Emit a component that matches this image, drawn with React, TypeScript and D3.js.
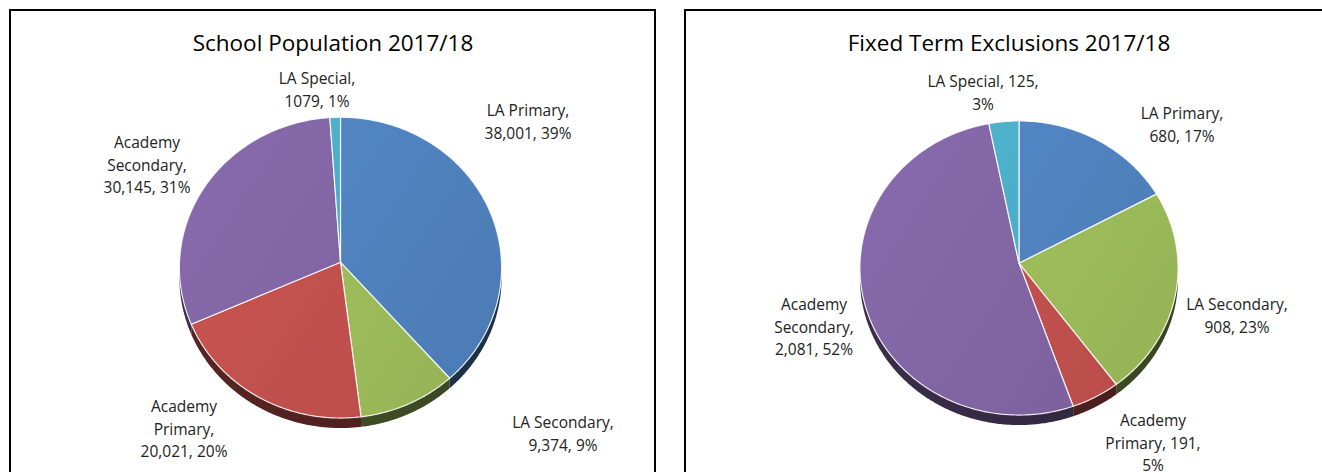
import React from "react";
import * as d3 from "d3";

// ---------- data ----------
const categories = ["LA Primary", "LA Secondary", "Academy Primary", "Academy Secondary", "LA Special"];
const sliceColors = ["#4F81BD", "#9BBB59", "#C0504D", "#8064A2", "#4BACC6"];

const populationTitle = "School Population 2017/18";
const populationValues = [38001, 9374, 20021, 30145, 1079];
const populationValueFormats = [",", ",", ",", ",", "d"];
const populationPercents = ["39%", "9%", "20%", "31%", "1%"];

const exclusionTitle = "Fixed Term Exclusions 2017/18";
const exclusionValues = [680, 908, 191, 2081, 125];
const exclusionValueFormats = [",", ",", ",", ",", ","];
const exclusionPercents = ["17%", "23%", "5%", "52%", "3%"];

// ---------- layout ----------
const W = 1322;
const H = 472;
const FONT = "'Open Sans', 'Liberation Sans', sans-serif";
const LABEL_SIZE = 15.5;
const TITLE_SIZE = 22.5;
const LINE_H = 22.5;

type LabelLayout = { dx: number; dy: number; lines: number[] };
type ChartLayout = {
  id: string;
  frame: { x: number; y: number; w: number; h: number };
  titleX: number;
  titleY: number;
  cx: number;
  cy: number;
  rx: number;
  ry: number;
  k: number;
  depth: number;
  labels: LabelLayout[];
};

const populationLayout: ChartLayout = {
  id: "pop",
  frame: { x: 10, y: 10, w: 645, h: 530 },
  titleX: 333,
  titleY: 51,
  cx: 340.5,
  cy: 262.3,
  rx: 161,
  ry: 150.2,
  k: 0.0356,
  depth: 10,
  labels: [
    { dx: 187.5, dy: -146, lines: [2, 2] },
    { dx: 222.5, dy: 166, lines: [2, 2] },
    { dx: -156.5, dy: 150, lines: [1, 1, 2] },
    { dx: -193.5, dy: -114, lines: [1, 1, 2] },
    { dx: -23.5, dy: -178, lines: [2, 2] },
  ],
};

const exclusionLayout: ChartLayout = {
  id: "exc",
  frame: { x: 685, y: 10, w: 700, h: 530 },
  titleX: 1009,
  titleY: 51,
  cx: 1019,
  cy: 263.3,
  rx: 159,
  ry: 146.9,
  k: 0.032,
  depth: 10,
  labels: [
    { dx: 163, dy: -144, lines: [2, 2] },
    { dx: 218, dy: 47, lines: [2, 2] },
    { dx: 134, dy: 163, lines: [1, 2, 1] },
    { dx: -205, dy: 47, lines: [1, 1, 2] },
    { dx: -36, dy: -176, lines: [3, 1] },
  ],
};

// ---------- helpers ----------
function makeProjector(L: ChartLayout) {
  return (a: number): [number, number] => {
    const u = Math.sin(a);
    const v = Math.cos(a);
    const w = 1 + L.k * v;
    return [L.cx + (L.rx * u) / w, L.cy - (L.ry * v) / w];
  };
}

function arcPts(proj: (a: number) => [number, number], a0: number, a1: number) {
  const n = Math.max(2, Math.ceil((a1 - a0) / 0.01));
  const pts: [number, number][] = [];
  for (let i = 0; i <= n; i++) pts.push(proj(a0 + ((a1 - a0) * i) / n));
  return pts;
}

function splitLines(text: string, counts: number[]) {
  const words = text.split(" ");
  const out: string[] = [];
  let idx = 0;
  counts.forEach((c) => {
    out.push(words.slice(idx, idx + c).join(" "));
    idx += c;
  });
  if (idx < words.length) out[out.length - 1] += " " + words.slice(idx).join(" ");
  return out;
}

function PieChart({
  L,
  title,
  values,
  formats,
  percents,
}: {
  L: ChartLayout;
  title: string;
  values: number[];
  formats: string[];
  percents: string[];
}) {
  const proj = makeProjector(L);
  const arcs = d3.pie<number>().sort(null).value((d) => d)(values);
  const line = d3.line();

  const sides = arcs
    .map((a, i) => {
      const s = Math.max(a.startAngle, Math.PI / 2);
      const e = Math.min(a.endAngle, (3 * Math.PI) / 2);
      if (e <= s) return null;
      const top = arcPts(proj, s, e);
      const bottom = top.map(([x, y]) => [x, y + L.depth] as [number, number]).reverse();
      return { i, d: line([...top, ...bottom])! + "Z" };
    })
    .filter(Boolean) as { i: number; d: string }[];

  const faces = arcs.map((a, i) => {
    const pts = arcPts(proj, a.startAngle, a.endAngle);
    return { i, d: line([[L.cx, L.cy], ...pts])! + "Z" };
  });

  return (
    <g>
      <defs>
        {sliceColors.map((c, i) => {
          const base = d3.rgb(c);
          return (
            <g key={i}>
              <linearGradient
                id={`${L.id}-face-${i}`}
                gradientUnits="userSpaceOnUse"
                x1={L.cx - L.rx}
                y1={L.cy - L.ry}
                x2={L.cx + L.rx}
                y2={L.cy + L.ry * 0.4}
              >
                <stop offset="0" stopColor={base.brighter(0.18).formatHex()} />
                <stop offset="1" stopColor={base.darker(0.1).formatHex()} />
              </linearGradient>
              <linearGradient
                id={`${L.id}-side-${i}`}
                gradientUnits="userSpaceOnUse"
                x1={L.cx - L.rx}
                y1={0}
                x2={L.cx + L.rx}
                y2={0}
              >
                <stop offset="0" stopColor={base.darker(2.2).formatHex()} />
                <stop offset="1" stopColor={base.darker(2.8).formatHex()} />
              </linearGradient>
            </g>
          );
        })}
      </defs>
      <rect
        x={L.frame.x}
        y={L.frame.y}
        width={L.frame.w}
        height={L.frame.h}
        fill="#fff"
        stroke="#000"
        strokeWidth={2}
      />
      <text
        x={L.titleX}
        y={L.titleY}
        textAnchor="middle"
        fontFamily={FONT}
        fontSize={TITLE_SIZE}
        fill="#000"
      >
        {title}
      </text>
      {sides.map((s) => (
        <path key={"s" + s.i} d={s.d} fill={`url(#${L.id}-side-${s.i})`} />
      ))}
      {faces.map((f) => (
        <path
          key={"f" + f.i}
          d={f.d}
          fill={`url(#${L.id}-face-${f.i})`}
          stroke="#ffffff"
          strokeOpacity={0.85}
          strokeWidth={1.2}
          strokeLinejoin="round"
        />
      ))}
      {arcs.map((a, i) => {
        const lab = L.labels[i];
        const txt = `${categories[i]}, ${d3.format(formats[i])(values[i])}, ${percents[i]}`;
        const lines = splitLines(txt, lab.lines);
        const x = L.cx + lab.dx;
        const y = L.cy + lab.dy;
        return (
          <text
            key={"l" + i}
            x={x}
            y={y}
            textAnchor="middle"
            fontFamily={FONT}
            fontSize={LABEL_SIZE}
            fill="#222"
          >
            {lines.map((ln, j) => (
              <tspan key={j} x={x} y={y + j * LINE_H}>
                {ln}
              </tspan>
            ))}
          </text>
        );
      })}
    </g>
  );
}

export default function App() {
  return (
    <svg
      width={W}
      height={H}
      viewBox={`0 0 ${W} ${H}`}
      style={{ position: "absolute", left: 0, top: 0, display: "block", background: "#fff" }}
    >
      <rect x={0} y={0} width={W} height={H} fill="#fff" />
      <PieChart
        L={populationLayout}
        title={populationTitle}
        values={populationValues}
        formats={populationValueFormats}
        percents={populationPercents}
      />
      <PieChart
        L={exclusionLayout}
        title={exclusionTitle}
        values={exclusionValues}
        formats={exclusionValueFormats}
        percents={exclusionPercents}
      />
    </svg>
  );
}
